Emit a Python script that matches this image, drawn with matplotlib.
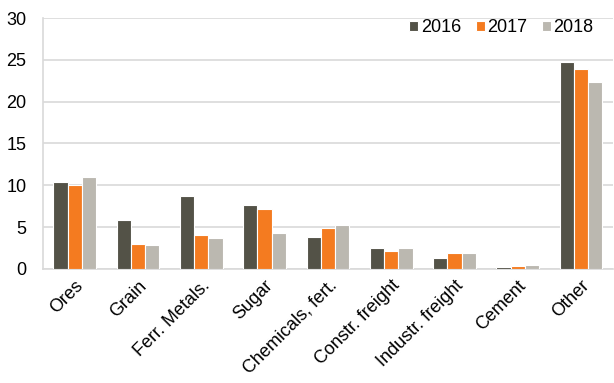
import numpy as np
import matplotlib.pyplot as plt

plt.rcParams['font.family'] = ['Liberation Sans', 'DejaVu Sans']

categories = ['Ores', 'Grain', 'Ferr. Metals.', 'Sugar', 'Chemicals, fert.',
              'Constr. freight', 'Industr. freight', 'Cement', 'Other']
years = ['2016', '2017', '2018']
v2016 = [10.4, 5.9, 8.7, 7.6, 3.8, 2.5, 1.3, 0.25, 24.7]
v2017 = [10.0, 3.0, 4.1, 7.2, 4.9, 2.1, 1.95, 0.3, 23.9]
v2018 = [11.0, 2.9, 3.7, 4.3, 5.3, 2.5, 1.95, 0.45, 22.3]
colors = ['#535247', '#F47B20', '#BBB8B0']

fig = plt.figure(figsize=(6.14, 3.83), dpi=100)
ax = fig.add_axes([0.070, 0.298, 0.928, 0.655])

x = np.arange(len(categories))
w = 0.225
for i, (vals, col, lab) in enumerate(zip([v2016, v2017, v2018], colors, years)):
    ax.bar(x + (i - 1) * w, vals, width=w, color=col, edgecolor='white',
           linewidth=0.8, label=lab, zorder=3)

ax.set_xlim(-0.5, len(categories) - 0.5)
ax.set_ylim(0, 30)
ax.set_yticks(range(0, 31, 5))
ax.set_xticks(x)
ax.set_xticklabels(categories, rotation=45, ha='right', rotation_mode='anchor')
ax.tick_params(axis='both', length=0, labelsize=13, colors='black')
ax.tick_params(axis='y', pad=12)
ax.tick_params(axis='x', pad=6)
ax.grid(axis='y', color='#D9D9D9', linewidth=1.2, zorder=0)
for s in ['top', 'right']:
    ax.spines[s].set_visible(False)
for s in ['left', 'bottom']:
    ax.spines[s].set_color('#D9D9D9')
    ax.spines[s].set_linewidth(1.2)

ax.legend(loc='upper right', bbox_to_anchor=(0.995, 1.06), ncol=3, frameon=False,
          fontsize=13, handlelength=0.5, handleheight=0.5, handletextpad=0.15,
          columnspacing=0.8)

fig.savefig('out.png', dpi=100)
